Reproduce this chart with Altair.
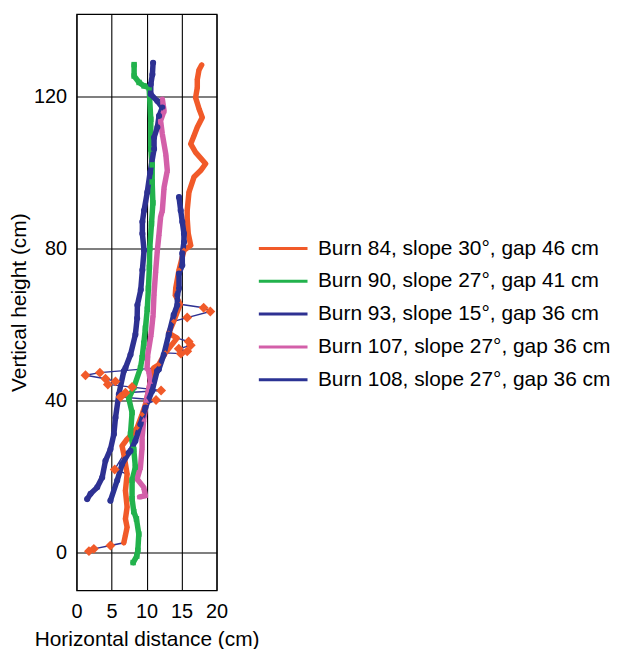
import altair as alt
import pandas as pd

names = ["Burn 84, slope 30°, gap 46 cm", "Burn 90, slope 27°, gap 41 cm",
         "Burn 93, slope 15°, gap 36 cm", "Burn 107, slope 27°, gap 36 cm",
         "Burn 108, slope 27°, gap 36 cm"]
colors = ["#F15A29", "#22B24C", "#2E3192", "#D35FA9", "#2B3394"]
shapes = ["diamond", "square", "circle", "triangle-up", "circle"]
marker_sizes = [30, 30, 38, 30, 38]

# Burn 84 (flag 1 = scattered outlier point)
b84_x = [17.86, 17.48, 17.24, 17.24, 17.00, 17.50, 17.95, 17.24, 16.77, 16.30, 17.00, 18.43, 17.72, 16.77,
         16.05, 15.80, 15.80, 15.95, 16.30, 15.34, 14.63, 14.16, 14.10, 14.80, 18.15, 19.10, 15.80, 13.87,
         13.16, 14.35, 16.00, 16.30, 14.60, 15.80, 14.90, 12.68, 11.74, 11.00, 3.33, 1.28, 4.13, 5.56,
         4.47, 7.93, 12.07, 6.98, 6.27, 11.35, 9.83, 9.36, 8.65, 7.93, 7.22, 6.50, 6.75, 5.45, 7.22,
         6.98, 7.22, 6.98, 7.22, 6.98, 6.75, 4.84, 2.47, 1.77]
b84_y = [128.3, 127.0, 124.5, 122.3, 119.7, 116.7, 114.5, 111.9, 109.7, 107.5, 105.3, 102.3, 100.5, 98.8,
         94.8, 90.0, 87.8, 83.9, 80.8, 79.5, 74.3, 69.5, 67.7, 65.3, 64.4, 63.4, 61.8, 60.8,
         57.7, 56.4, 55.5, 54.5, 53.6, 52.9, 52.3, 52.5, 49.4, 48.5, 47.3, 46.6, 45.7, 45.0,
         44.2, 43.5, 42.6, 42.0, 40.9, 40.1, 38.9, 36.3, 32.8, 31.1, 29.8, 28.0, 25.8, 21.8, 20.6,
         16.2, 11.9, 8.8, 6.6, 4.5, 2.5, 1.8, 0.9, 0.3]
b84_flag = [0] * 24 + [1, 1, 1] + [0, 0, 0] + [1, 1, 1, 1, 1] + [0, 0, 0] + [1] * 10 + [0] * 7 + [1] + [0] * 7 + [1, 1, 1]

b90_x = [8.22, 8.22, 8.93, 9.64, 10.36, 10.60, 10.60, 10.80, 10.80, 10.90, 10.70, 10.45, 10.40, 10.26,
         10.10, 9.83, 9.60, 9.36, 9.12, 8.20, 7.46, 7.93, 7.70, 8.17, 8.40, 7.93, 7.93, 8.17, 8.55,
         8.89, 8.75, 8.60, 8.08]
b90_y = [128.4, 125.4, 123.7, 122.8, 122.3, 114.0, 106.2, 102.0, 97.5, 92.0, 86.5, 80.0, 75.0, 69.5,
         64.0, 59.0, 55.0, 51.2, 48.5, 43.5, 40.5, 36.8, 31.1, 27.1, 22.4, 19.0, 14.1, 10.7, 8.8,
         4.8, 0.5, -1.0, -2.7]

b93_x = [10.93, 10.83, 10.60, 10.60, 11.54, 12.25, 11.78, 11.54, 11.07, 11.07, 10.50, 10.10, 9.64, 9.40,
         9.40, 9.64, 9.40, 9.17, 8.69, 8.65, 8.40, 7.70, 6.98, 6.75, 6.04, 5.56, 5.33, 4.84, 4.13,
         3.66, 2.95, 2.00, 1.52]
b93_y = [128.9, 125.8, 123.2, 120.6, 118.8, 117.1, 114.9, 111.9, 109.2, 106.2, 100.0, 94.8, 90.0, 87.0,
         83.9, 79.5, 74.3, 69.1, 65.1, 61.6, 57.3, 52.0, 48.5, 47.7, 41.6, 35.4, 31.1, 27.1, 24.1,
         19.7, 17.1, 15.4, 14.0]

b107_x = [12.25, 12.50, 12.00, 12.25, 12.74, 12.96, 12.50, 12.25, 12.00, 11.78, 11.54, 11.31, 11.07, 10.93,
          10.64, 10.17, 10.07, 10.31, 10.54, 10.00, 9.60, 9.36, 9.36, 9.12, 8.65, 9.60, 9.83, 9.00]
b107_y = [119.3, 116.2, 113.6, 110.1, 104.9, 100.5, 96.1, 90.0, 88.3, 83.9, 79.5, 74.3, 68.2, 62.5,
          57.3, 52.0, 48.5, 47.7, 45.0, 40.0, 35.0, 30.2, 27.6, 22.3, 19.3, 17.1, 14.9, 14.6]

b108_x = [14.63, 14.87, 15.10, 15.34, 15.34, 15.10, 15.10, 14.63, 14.63, 14.39, 14.39, 13.87, 13.16, 12.45,
          11.74, 11.50, 10.78, 9.83, 9.12, 8.40, 7.70, 7.45, 6.50, 5.80, 4.84]
b108_y = [93.5, 90.0, 87.0, 83.9, 81.7, 78.7, 75.6, 73.4, 69.5, 67.7, 65.1, 62.5, 57.3, 52.0,
          48.1, 47.7, 42.4, 38.1, 33.7, 29.3, 26.7, 26.2, 23.2, 18.9, 13.6]

x_ticks = [0, 5, 10, 15, 20]
y_ticks = [0, 40, 80, 120]

rows = []
series_data = [(b84_x, b84_y, b84_flag), (b90_x, b90_y, None), (b93_x, b93_y, None),
               (b107_x, b107_y, None), (b108_x, b108_y, None)]
for name, (xv_list, yv_list, fl) in zip(names, series_data):
    for i, (xv, yv) in enumerate(zip(xv_list, yv_list)):
        rows.append({"series": name, "x": xv, "y": yv, "idx": i,
                     "out": (fl[i] if fl else 0)})
df = pd.DataFrame(rows)

xs = alt.X("x:Q", scale=alt.Scale(domain=[0, 20], nice=False),
           axis=alt.Axis(values=x_ticks, title="Horizontal distance (cm)", labelFlush=False))
ys = alt.Y("y:Q", scale=alt.Scale(domain=[-10, 141.7], nice=False, zero=False),
           axis=alt.Axis(values=y_ticks, title="Vertical height (cm)", labelFlush=False))
color_scale = alt.Scale(domain=names, range=colors)

base = alt.Chart(df)

thin = base.transform_filter(alt.datum.series == names[0]).mark_line(
    strokeWidth=1.4, color="#2E3192").encode(x=xs, y=ys, order="idx:Q")

thick = base.transform_filter(alt.datum.out == 0).mark_line(
    strokeWidth=5.5, strokeCap="round", strokeJoin="round").encode(
    x=xs, y=ys, order="idx:Q",
    color=alt.Color("series:N", scale=color_scale, sort=names,
                    legend=alt.Legend(title=None, orient="none", legendX=182, legendY=224,
                                      symbolType="stroke", symbolSize=2401, symbolStrokeWidth=3,
                                      clipHeight=24, rowPadding=9, labelFontSize=21,
                                      labelOffset=9, padding=0, labelColor="black",
                                      labelFont="Liberation Sans", labelLimit=400)))

point_layers = []
for name, col, shp, sz in zip(names, colors, shapes, marker_sizes):
    point_layers.append(
        base.transform_filter((alt.datum.series == name) & (alt.datum.out == 0)).mark_point(
            filled=True, size=sz, opacity=1, shape=shp, color=col).encode(x=xs, y=ys))

outl = base.transform_filter(alt.datum.out == 1).mark_point(
    filled=True, size=100, opacity=1, shape="diamond", color="#F15A29").encode(x=xs, y=ys)

chart = alt.layer(thin, thick, *point_layers, outl).properties(
    width=141, height=580,
    padding={"left": 0, "top": 4, "right": 0, "bottom": 0}
).configure_view(stroke="black", strokeWidth=1.2).configure_axis(
    grid=True, gridColor="black", gridWidth=1.1, gridOpacity=1, ticks=False, domain=False,
    labelFontSize=20, titleFontSize=21, labelFont="Liberation Sans", titleFont="Liberation Sans",
    labelColor="black", titleColor="black", titleFontWeight="normal", zindex=1
).configure_axisY(labelPadding=10, titlePadding=4).configure_axisX(labelPadding=11, titlePadding=8)

chart.save("out.html", embed_options={"renderer": "svg", "actions": False})
